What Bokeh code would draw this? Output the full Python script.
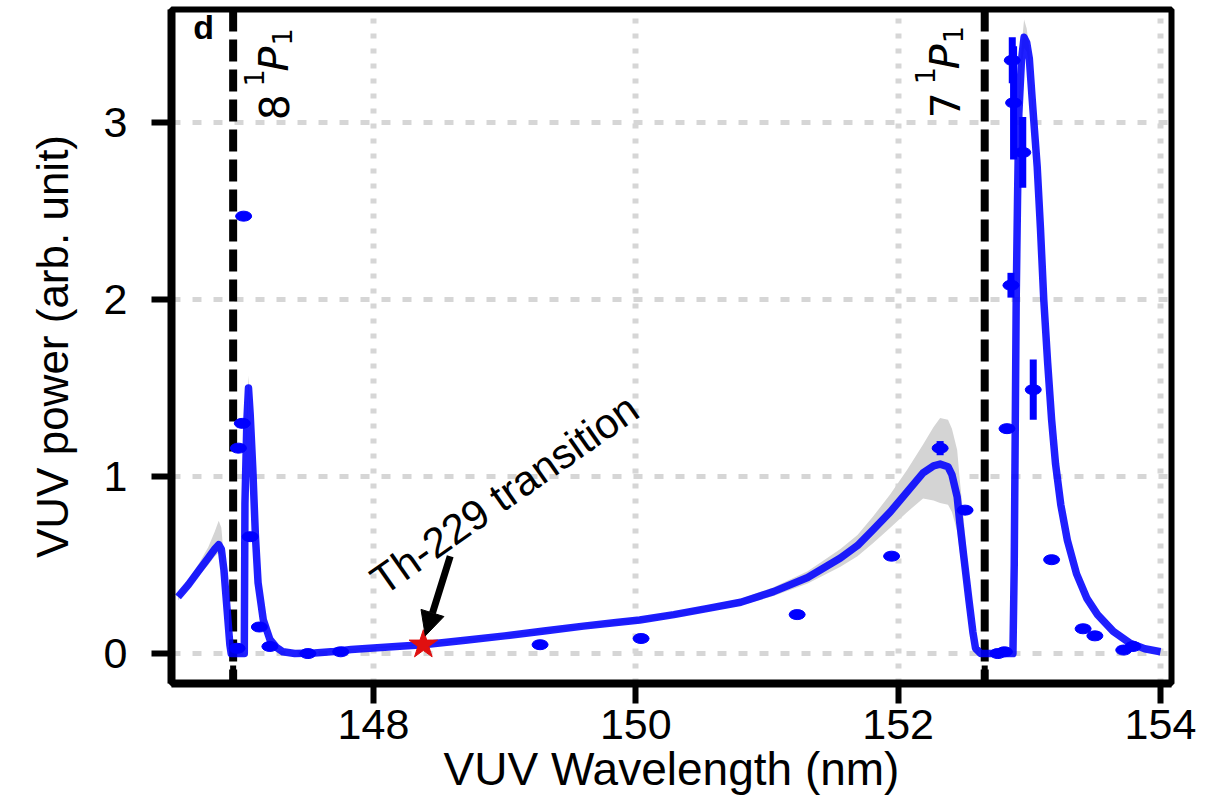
import numpy as np
from bokeh.plotting import figure
from bokeh.models import (ColumnDataSource, FixedTicker, Span, Arrow, NormalHead,
                          Label, Range1d)
from bokeh.embed import file_html
from bokeh.resources import INLINE

# ---------------- data ----------------
# fitted model curve (wavelength nm, power) and its uncertainty band
curve_x = [146.51, 146.59, 146.67, 146.74, 146.79, 146.82, 146.84, 146.86, 146.875, 146.89,
           146.905, 146.915, 147.015, 147.02, 147.035, 147.047, 147.06, 147.08, 147.10, 147.12,
           147.16, 147.21, 147.26, 147.31, 147.40, 147.55, 147.70, 147.83, 148.00, 148.20,
           148.38, 148.70, 149.00, 149.30, 149.60, 149.85, 150.03, 150.29, 150.54, 150.80,
           151.05, 151.31, 151.56, 151.69, 151.81, 151.94, 152.07, 152.19, 152.27, 152.32,
           152.38, 152.41, 152.45, 152.47, 152.50, 152.54, 152.57, 152.59, 152.63, 152.875,
           152.885, 152.89, 152.90, 152.91, 152.92, 152.94, 152.96, 152.98, 153.00, 153.02,
           153.04, 153.06, 153.085, 153.11, 153.14, 153.17, 153.20, 153.24, 153.29, 153.36,
           153.44, 153.52, 153.64, 153.77, 153.88, 154.00]
curve_y = [0.32, 0.39, 0.47, 0.54, 0.59, 0.615, 0.59, 0.47, 0.33, 0.19,
           0.05, 0.0, 0.0, 0.85, 1.32, 1.50, 1.35, 1.04, 0.66, 0.40,
           0.19, 0.08, 0.035, 0.01, 0.0, 0.003, 0.012, 0.023, 0.032, 0.042,
           0.05, 0.075, 0.10, 0.128, 0.155, 0.175, 0.19, 0.22, 0.254, 0.29,
           0.35, 0.43, 0.54, 0.61, 0.70, 0.80, 0.915, 1.02, 1.06, 1.07,
           1.055, 1.01, 0.885, 0.74, 0.55, 0.30, 0.12, 0.03, 0.0, 0.0,
           0.5, 1.0, 2.0, 2.56, 3.05, 3.35, 3.48, 3.45, 3.36, 3.15,
           2.95, 2.75, 2.40, 2.0, 1.64, 1.32, 1.07, 0.84, 0.64, 0.45,
           0.31, 0.22, 0.125, 0.058, 0.027, 0.01]
band_lo = [0.30, 0.37, 0.44, 0.50, 0.55, 0.57, 0.55, 0.44, 0.31, 0.18,
           0.05, 0.0, 0.0, 0.82, 1.28, 1.46, 1.32, 1.01, 0.64, 0.39,
           0.18, 0.075, 0.03, 0.01, 0.0, 0.002, 0.010, 0.020, 0.028, 0.037,
           0.045, 0.068, 0.092, 0.118, 0.143, 0.162, 0.176, 0.205, 0.238, 0.272,
           0.325, 0.395, 0.49, 0.55, 0.625, 0.71, 0.80, 0.875, 0.865, 0.85,
           0.84, 0.80, 0.69, 0.57, 0.42, 0.22, 0.08, 0.02, 0.0, 0.0,
           0.48, 0.97, 1.96, 2.52, 3.0, 3.3, 3.42, 3.40, 3.31, 3.11,
           2.91, 2.71, 2.37, 1.97, 1.61, 1.30, 1.05, 0.825, 0.63, 0.44,
           0.303, 0.215, 0.122, 0.056, 0.026, 0.01]
band_hi = [0.34, 0.42, 0.51, 0.60, 0.69, 0.75, 0.71, 0.54, 0.37, 0.21,
           0.05, 0.0, 0.0, 0.88, 1.38, 1.57, 1.40, 1.07, 0.68, 0.41,
           0.20, 0.085, 0.04, 0.01, 0.0, 0.004, 0.014, 0.026, 0.036, 0.047,
           0.055, 0.082, 0.108, 0.138, 0.167, 0.188, 0.204, 0.235, 0.27, 0.31,
           0.375, 0.465, 0.59, 0.67, 0.775, 0.90, 1.04, 1.18, 1.28, 1.33,
           1.32, 1.27, 1.15, 0.98, 0.76, 0.42, 0.18, 0.05, 0.0, 0.0,
           0.52, 1.03, 2.04, 2.61, 3.1, 3.42, 3.58, 3.53, 3.42, 3.20,
           2.99, 2.79, 2.43, 2.03, 1.67, 1.34, 1.09, 0.855, 0.65, 0.46,
           0.317, 0.225, 0.128, 0.06, 0.028, 0.01]

# measured points
pts_x = [146.96, 146.97, 147.00, 147.01, 147.06, 147.13, 147.21, 147.50, 147.75, 149.27,
         150.04, 151.23, 151.95, 152.32, 152.51, 152.76, 152.81, 152.83, 152.86, 152.87,
         152.88, 152.95, 153.03, 153.17, 153.41, 153.50, 153.72, 153.79]
pts_y = [0.03, 1.16, 1.30, 2.47, 0.66, 0.15, 0.04, 0.00, 0.01, 0.05,
         0.085, 0.22, 0.55, 1.16, 0.81, 0.00, 0.01, 1.27, 2.08, 3.35,
         3.11, 2.83, 1.49, 0.53, 0.14, 0.10, 0.02, 0.04]
pts_err = [0, 0.02, 0.02, 0.02, 0.02, 0, 0, 0, 0, 0,
           0, 0, 0, 0.04, 0, 0, 0, 0.02, 0.07, 0.13,
           0.32, 0.20, 0.17, 0, 0, 0, 0, 0]

# Th-229 transition marker
star_x = [148.38]
star_y = [0.05]

# Xe resonance lines
transitions = [146.93, 152.66]
transition_main = ["8", "7"]

x_ticks = [148, 150, 152, 154]
y_ticks = [0, 1, 2, 3]

X0, X1 = 146.46, 154.084
Y0, Y1 = -0.169, 3.637
FW, FH = 1000, 675
PXX = FW / (X1 - X0)
PXY = FH / (Y1 - Y0)

BLUE = "#0000ff"
SANS = "Liberation Sans"

p = figure(width=1208, height=797, x_range=Range1d(X0, X1), y_range=Range1d(Y0, Y1),
           output_backend="svg", toolbar_location=None, tools="",
           min_border_left=171, min_border_right=37, min_border_top=9, min_border_bottom=113)
p.background_fill_color = "white"
p.border_fill_color = "white"
p.outline_line_color = "black"
p.outline_line_width = 6

# grid
p.xgrid.ticker = FixedTicker(ticks=x_ticks)
p.ygrid.ticker = FixedTicker(ticks=y_ticks)
p.xgrid.grid_line_color = "#d6d6d6"
p.xgrid.grid_line_width = 6
p.xgrid.grid_line_dash = "5 10"
p.ygrid.grid_line_color = "#d6d6d6"
p.ygrid.grid_line_width = 5
p.ygrid.grid_line_dash = "9 12"

# axes
for ax in (p.xaxis[0], p.yaxis[0]):
    ax.axis_line_width = 8
    ax.major_tick_line_width = 6
    ax.major_tick_out = 20
    ax.major_tick_in = 0
    ax.minor_tick_line_color = None
    ax.major_label_text_font = SANS
    ax.major_label_text_font_size = "43px"
    ax.major_label_text_color = "black"
    ax.axis_label_text_font = SANS
    ax.axis_label_text_font_style = "normal"
    ax.axis_label_text_color = "black"
p.xaxis.ticker = FixedTicker(ticks=x_ticks)
p.yaxis.ticker = FixedTicker(ticks=y_ticks)
p.xaxis.axis_label = "VUV Wavelength (nm)"
p.yaxis.axis_label = "VUV power (arb. unit)"
p.xaxis.axis_label_text_font_size = "46px"
p.yaxis.axis_label_text_font_size = "44px"
p.xaxis.major_label_standoff = 6
p.yaxis.major_label_standoff = 24
p.xaxis.axis_label_standoff = 1
p.yaxis.axis_label_standoff = 24

# dashed resonance lines
for t in transitions:
    p.add_layout(Span(location=t, dimension="height", line_color="black", line_width=8,
                      line_dash="22 8", level="underlay"))
# small inward ticks at the resonance wavelengths
p.segment(x0=transitions, x1=transitions, y0=[Y0] * len(transitions),
          y1=[Y0 + 18 / PXY] * len(transitions), line_color="black", line_width=6)

# uncertainty band and model curve
p.varea(x=curve_x, y1=band_lo, y2=band_hi, fill_color="#d4d4d4")
p.line(curve_x, curve_y, line_color=BLUE, line_width=7.5, line_alpha=0.88, line_join="round")

# data points with error bars
ys = np.array(pts_y)
es = np.array(pts_err)
mask = es > 0
src_err = ColumnDataSource(dict(x=np.array(pts_x)[mask], lo=(ys - es)[mask], hi=(ys + es)[mask]))
p.segment(x0="x", x1="x", y0="lo", y1="hi", source=src_err, line_color=BLUE, line_width=7)
p.ellipse(x=pts_x, y=pts_y, width=16, height=10, width_units="screen", height_units="screen",
          fill_color=BLUE, line_color=BLUE)

# star marker
p.scatter(star_x, star_y, marker="star", size=30, fill_color="#e01010", line_color="#e01010")

# arrow + text
p.add_layout(Arrow(end=NormalHead(size=24, fill_color="black", line_color="black"),
                   x_start=star_x[0] + 0.205, y_start=star_y[0] + 0.50,
                   x_end=star_x[0] + 0.015, y_end=star_y[0] + 0.05,
                   line_width=7, line_color="black"))
p.add_layout(Label(x=148.015, y=0.39, text="Th-229 transition", angle=np.radians(35),
                   text_font=SANS, text_font_size="42px", text_color="black",
                   text_align="left", text_baseline="alphabetic"))

# panel letter
p.add_layout(Label(x=146.625, y=3.645, text="d", text_font=SANS, text_font_size="34px",
                   text_font_style="bold", text_baseline="top", text_align="left",
                   text_color="black"))

# resonance labels "n ¹P₁" rotated 90°
label_base = [(147.382 - 18 / PXX, 3.011), (152.498 - 18 / PXX, 3.023)]
for (bx, by), main in zip(label_base, transition_main):
    pieces = [(main, 0, 0, "41px", "normal"),
              ("1", 34, -20, "27px", "normal"),
              ("P", 49, 0, "41px", "italic"),
              ("1", 75, 8, "27px", "normal")]
    for txt, s, dx, size, style in pieces:
        p.add_layout(Label(x=bx + dx / PXX, y=by + s / PXY, text=txt, angle=np.pi / 2,
                           text_font="DejaVu Sans", text_font_size=size, text_font_style=style,
                           text_align="left", text_baseline="alphabetic", text_color="black"))

open("out.html", "w").write(file_html(p, INLINE))
